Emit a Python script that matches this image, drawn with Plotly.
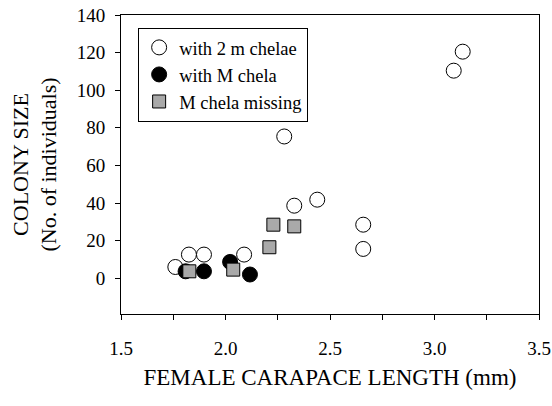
import plotly.graph_objects as go

# with 2 m chelae (open circles)
two_x = [1.76, 1.825, 1.897, 2.089, 2.281, 2.329, 2.439, 2.659, 2.659, 3.092, 3.135]
two_y = [6, 12.6, 12.6, 12.6, 75.4, 38.6, 41.8, 28.5, 15.6, 110.4, 120.5]

# with M chela (filled circles)
m_x = [1.809, 1.897, 2.022, 2.117]
m_y = [3.7, 3.7, 8.7, 2.0]

# M chela missing (grey squares)
miss_x = [1.827, 2.037, 2.21, 2.229, 2.329]
miss_y = [3.7, 4.6, 16.5, 28.5, 27.6]

FONT = "Liberation Serif, Times New Roman, serif"

fig = go.Figure()
fig.add_trace(go.Scatter(
    x=two_x, y=two_y, mode="markers", name="with 2 m chelae",
    marker=dict(symbol="circle", size=15, color="white",
                line=dict(color="black", width=1)),
))
fig.add_trace(go.Scatter(
    x=m_x, y=m_y, mode="markers", name="with M chela",
    marker=dict(symbol="circle", size=15, color="black",
                line=dict(color="black", width=1)),
))
fig.add_trace(go.Scatter(
    x=miss_x, y=miss_y, mode="markers", name="M chela missing",
    marker=dict(symbol="square", size=13, color="#a9a9a9",
                line=dict(color="black", width=1)),
))

fig.update_layout(
    width=552, height=406,
    paper_bgcolor="white", plot_bgcolor="white",
    font=dict(family=FONT, color="black", size=19),
    margin=dict(l=121, r=13, t=15, b=92, autoexpand=False),
    showlegend=True,
    legend=dict(
        x=0.041, y=0.957, xanchor="left", yanchor="top",
        bgcolor="white", bordercolor="black", borderwidth=1,
        font=dict(size=18.5), itemsizing="trace",
        tracegroupgap=0,
    ),
    xaxis=dict(
        range=[1.5, 3.5], tickvals=[1.5, 2.0, 2.5, 3.0, 3.5],
        tickformat=".1f", ticks="outside", ticklen=5, tickcolor="black",
        minor=dict(dtick=0.25, tick0=1.5, ticks="outside", ticklen=5, tickcolor="black"),
        showline=True, linecolor="black", linewidth=1, mirror=True,
        showgrid=False, zeroline=False, automargin=False,
        ticklabelstandoff=12,
        title=dict(text="FEMALE CARAPACE LENGTH (mm)", font=dict(size=23), standoff=11),
    ),
    yaxis=dict(
        range=[-19, 140], tickvals=[0, 20, 40, 60, 80, 100, 120, 140],
        ticks="outside", ticklen=5, tickcolor="black",
        showline=True, linecolor="black", linewidth=1, mirror=True,
        showgrid=False, zeroline=False, automargin=False,
        ticklabelstandoff=6,
        title=dict(text="COLONY SIZE<br>(No. of individuals)", font=dict(size=22), standoff=13),
    ),
)

# drop the browser's default body margin so the figure sits at the top-left
fig.write_html("out.html", config={"displayModeBar": False},
               post_script="document.body.style.margin='0';")
